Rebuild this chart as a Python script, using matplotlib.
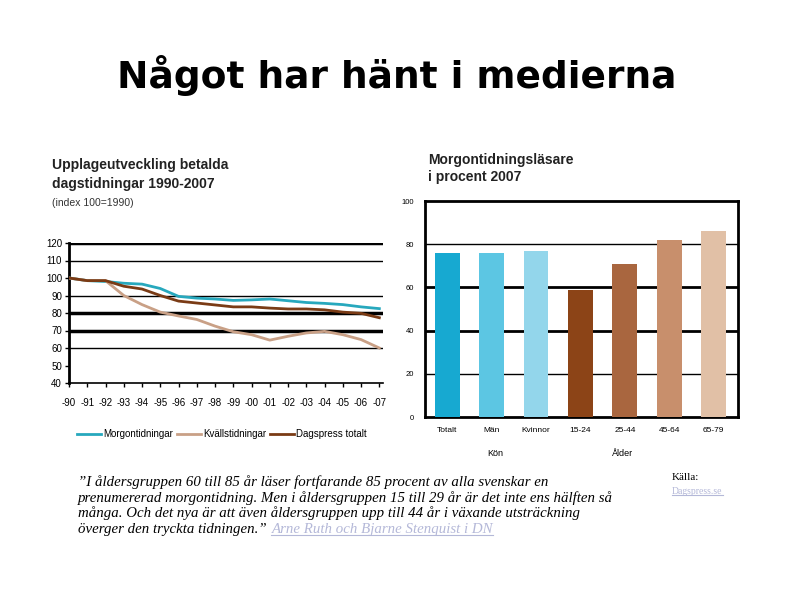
import matplotlib
matplotlib.use("Agg")
from matplotlib import pyplot as plt
from matplotlib.lines import Line2D

plt.rcParams['font.family'] = ['Liberation Sans', 'DejaVu Sans']

# Line chart data (index 100 = 1990)
years = list(range(1990, 2008))
year_labels = ['-90', '-91', '-92', '-93', '-94', '-95', '-96', '-97', '-98',
               '-99', '-00', '-01', '-02', '-03', '-04', '-05', '-06', '-07']
morgon = [100, 98.5, 98, 97, 96.5, 94, 89.5, 88.5, 88, 87.2, 87.5, 88, 87,
          86, 85.5, 84.8, 83.5, 82.5]
kvalls = [100, 98.5, 98.5, 90, 84.8, 80.5, 78.3, 76.3, 72.5, 69.3, 67.6, 64.5,
          66.7, 68.6, 69.5, 67.6, 64.8, 60]
dagspress = [100, 98.5, 98.5, 95.3, 93.7, 90, 86.8, 85.7, 84.6, 83.5, 83.5,
             82.8, 82.3, 82.3, 81.8, 80.5, 79.8, 77.3]

# Bar chart data
bar_labels = ['Totalt', 'Män', 'Kvinnor', '15-24', '25-44', '45-64', '65-79']
bar_values = [76, 76, 77, 59, 71, 82, 86]
bar_colors = ['#17a9d1', '#5cc6e3', '#93d6eb', '#8c4417', '#a9663f',
              '#c88f6c', '#e1c0a6']

fig = plt.figure(figsize=(7.94, 5.95), dpi=100)

def fx(px):
    return px / 794

def fy(py):
    return 1 - py / 595

fig.text(0.5, fy(75), 'Något har hänt i medierna', ha='center', va='center',
         fontsize=27, fontweight='bold', family=['DejaVu Sans'])

# ---- line chart ----
ax1 = fig.add_axes([fx(69), fy(383), fx(383 - 69), (383 - 243) / 595])
ax1.set_xlim(1990, 2007.2)
ax1.set_ylim(40, 120)
for y, lw in [(120, 2.5), (110, 1), (90, 1), (80, 2.5), (70, 2.5), (60, 1)]:
    ax1.axhline(y, color='black', lw=lw, zorder=1)
ax1.plot(years, morgon, color='#27a8bd', lw=2, label='Morgontidningar', zorder=3)
ax1.plot(years, kvalls, color='#c9a086', lw=2, label='Kvällstidningar', zorder=3)
ax1.plot(years, dagspress, color='#7a3b15', lw=2, label='Dagspress totalt', zorder=3)
ax1.set_yticks(range(40, 121, 10))
ax1.set_xticks(years)
ax1.set_xticklabels(year_labels)
ax1.tick_params(axis='both', labelsize=7, length=3, width=1, pad=2)
ax1.tick_params(axis='x', pad=8)
for s in ['top', 'right']:
    ax1.spines[s].set_visible(False)
ax1.spines['left'].set_linewidth(2)
ax1.spines['bottom'].set_linewidth(1.2)
ax1.legend(loc='upper left', bbox_to_anchor=(0.025, -0.33), ncol=3, frameon=False,
           fontsize=7, handlelength=2.5, handletextpad=0.2, columnspacing=0.4,
           borderpad=0, borderaxespad=0)

fig.text(fx(52), fy(165), 'Upplageutveckling betalda', fontsize=10,
         fontweight='bold', color='#222222', va='center')
fig.text(fx(52), fy(184), 'dagstidningar 1990-2007', fontsize=10,
         fontweight='bold', color='#222222', va='center')
fig.text(fx(52), fy(203), '(index 100=1990)', fontsize=7.5, color='#333333',
         va='center')

# ---- bar chart ----
ax2 = fig.add_axes([fx(425), fy(417), fx(738 - 425), (417 - 201) / 595])
xs = range(len(bar_labels))
ax2.bar(xs, bar_values, width=0.56, color=bar_colors, zorder=3)
ax2.set_xlim(-0.5, 6.55)
ax2.set_ylim(0, 100)
for y, lw in [(20, 1), (40, 2), (60, 2), (80, 1)]:
    ax2.axhline(y, color='black', lw=lw, zorder=1)
ax2.set_yticks(range(0, 101, 20))
ax2.set_xticks(list(xs))
ax2.set_xticklabels(bar_labels)
ax2.tick_params(axis='both', length=0, labelsize=6)
ax2.tick_params(axis='y', labelsize=5.5, pad=8)
ax2.tick_params(axis='x', pad=7)
for s in ax2.spines.values():
    s.set_linewidth(2)
fig.text(fx(428), fy(160), 'Morgontidningsläsare', fontsize=10,
         fontweight='bold', color='#222222', va='center')
fig.text(fx(428), fy(177), 'i procent 2007', fontsize=10,
         fontweight='bold', color='#222222', va='center')
fig.text(fx(495), fy(453), 'Kön', fontsize=6.5, ha='center', va='center')
fig.text(fx(622), fy(453), 'Ålder', fontsize=6.5, ha='center', va='center')

# ---- quote ----
serif = ['Liberation Serif', 'DejaVu Serif']
quote_lines = [
    '”I åldersgruppen 60 till 85 år läser fortfarande 85 procent av alla svenskar en',
    'prenumererad morgontidning. Men i åldersgruppen 15 till 29 år är det inte ens hälften så',
    'många. Och det nya är att även åldersgruppen upp till 44 år i växande utsträckning',
    'överger den tryckta tidningen.”',
]
link_color = '#b4b8d8'
last = None
for i, line in enumerate(quote_lines):
    last = fig.text(fx(78), fy(482 + 15.7 * i), line, fontsize=10.7,
                    style='italic', family=serif, va='center')

fig.canvas.draw()
r = fig.canvas.get_renderer()

def underline(t):
    bb = t.get_window_extent(r)
    yy = bb.y0 + 1
    fig.add_artist(Line2D([bb.x0 / 794, bb.x1 / 794], [yy / 595, yy / 595],
                          color=t.get_color(), lw=0.8))

bb = last.get_window_extent(r)
link = fig.text(bb.x1 / 794 + 0.006, fy(482 + 15.7 * 3), 'Arne Ruth och Bjarne Stenquist i DN',
                fontsize=10.7, style='italic', family=serif, va='center',
                color=link_color)
fig.text(fx(672), fy(478), 'Källa:', fontsize=8, family=serif, va='center')
src = fig.text(fx(672), fy(491), 'Dagspress.se', fontsize=7, family=serif,
               va='center', color=link_color)
fig.canvas.draw()
underline(link)
underline(src)

fig.savefig('out.png', dpi=100)
